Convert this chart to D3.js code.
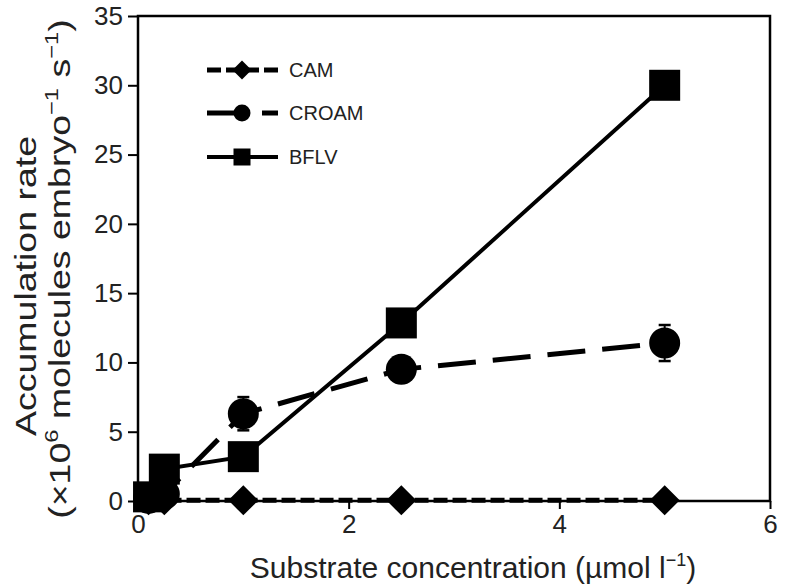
<!DOCTYPE html>
<html>
<head>
<meta charset="utf-8">
<script src="https://cdn.jsdelivr.net/npm/d3@7"></script>
<style>
  html, body { margin: 0; padding: 0; background: #fff; }
  svg { display: block; font-family: "Liberation Sans", Arial, Helvetica, sans-serif; }
</style>
</head>
<body>
<svg id="chart" width="791" height="588"></svg>
<script>
// ---- data ----
const concentrations = [0.1, 0.25, 1, 2.5, 5];
const camValues   = [0.05, 0.05, 0.05, 0.05, 0.05];
const croamValues = [0.2, 0.5, 6.3, 9.5, 11.4];
const croamErrors = [0, 0, 1.2, 0.4, 1.3];
const bflvValues  = [0.3, 2.3, 3.2, 12.85, 30.0];
const seriesNames = ["CAM", "CROAM", "BFLV"];
const xTickValues = [0, 2, 4, 6];
const yTickValues = [0, 5, 10, 15, 20, 25, 30, 35];

// ---- layout ----
const svg = d3.select("#chart");
const x = d3.scaleLinear().domain([0, 6]).range([138, 770]);
const y = d3.scaleLinear().domain([0, 35]).range([501, 16]);

const styles = {
  CAM:   { dash: "14,5",  width: 5, marker: "diamond" },
  CROAM: { dash: "38,17", width: 5, marker: "circle" },
  BFLV:  { dash: null,    width: 4, marker: "square" }
};

function pts(vals) { return concentrations.map((c, i) => ({ x: c, y: vals[i] })); }
const series = [
  { name: "CAM",   data: pts(camValues) },
  { name: "CROAM", data: pts(croamValues), err: croamErrors },
  { name: "BFLV",  data: pts(bflvValues) }
];

// frame
svg.append("rect")
  .attr("x", x(0)).attr("y", y(35))
  .attr("width", x(6) - x(0)).attr("height", y(0) - y(35))
  .attr("fill", "none").attr("stroke", "#000").attr("stroke-width", 2.5);

// axes
const xAxis = svg.append("g").attr("transform", `translate(0,${y(0)})`)
  .call(d3.axisBottom(x).tickValues(xTickValues).tickSize(8).tickPadding(6).tickFormat(d3.format("d")));
const yAxis = svg.append("g").attr("transform", `translate(${x(0)},0)`)
  .call(d3.axisLeft(y).tickValues(yTickValues).tickSize(10).tickPadding(5).tickFormat(d3.format("d")));
[xAxis, yAxis].forEach(g => {
  g.select(".domain").remove();
  g.selectAll(".tick line").attr("stroke", "#000").attr("stroke-width", 2);
  g.selectAll(".tick text").attr("fill", "#222").attr("font-size", 26)
    .attr("font-family", "'Liberation Sans', Arial, sans-serif");
});

// marker drawing
function drawMarker(g, type, cx, cy, s) {
  if (type === "square") {
    g.append("rect").attr("x", cx - s / 2).attr("y", cy - s / 2)
      .attr("width", s).attr("height", s).attr("fill", "#000");
  } else if (type === "circle") {
    g.append("circle").attr("cx", cx).attr("cy", cy).attr("r", s / 2).attr("fill", "#000");
  } else {
    const h = s / 2;
    g.append("path").attr("d", `M${cx},${cy - h}L${cx + h},${cy}L${cx},${cy + h}L${cx - h},${cy}Z`)
      .attr("fill", "#000");
  }
}

const line = d3.line().x(d => x(d.x)).y(d => y(d.y));
const plot = svg.append("g");
series.forEach(s => {
  const st = styles[s.name];
  const g = plot.append("g");
  g.append("path").datum(s.data).attr("d", line)
    .attr("fill", "none").attr("stroke", "#000").attr("stroke-width", st.width)
    .attr("stroke-dasharray", st.dash);
  if (s.err) {
    s.data.forEach((d, i) => {
      const e = s.err[i];
      if (!e) return;
      g.append("line").attr("x1", x(d.x)).attr("x2", x(d.x))
        .attr("y1", y(d.y - e)).attr("y2", y(d.y + e)).attr("stroke", "#000").attr("stroke-width", 2);
      [d.y - e, d.y + e].forEach(v => {
        g.append("line").attr("x1", x(d.x) - 6).attr("x2", x(d.x) + 6)
          .attr("y1", y(v)).attr("y2", y(v)).attr("stroke", "#000").attr("stroke-width", 2.5);
      });
    });
  }
  s.data.forEach(d => drawMarker(g, st.marker, x(d.x), y(d.y), s.name === "CAM" ? 30 : 31));
});

// legend
const legendY = [70, 113, 157];
seriesNames.forEach((name, i) => {
  const st = styles[name];
  const g = svg.append("g");
  g.append("line").attr("x1", 207).attr("x2", 278).attr("y1", legendY[i]).attr("y2", legendY[i])
    .attr("stroke", "#000").attr("stroke-width", st.width).attr("stroke-dasharray", st.dash);
  drawMarker(g, st.marker, 242, legendY[i], name === "CAM" ? 19 : 17);
  g.append("text").attr("x", 289).attr("y", legendY[i] + 7).attr("font-size", 20).attr("fill", "#222")
    .text(name);
});

// axis titles
const xt = svg.append("text").attr("x", 473).attr("y", 578).attr("text-anchor", "middle")
  .attr("font-size", 30).attr("fill", "#222");
xt.append("tspan").text("Substrate concentration (µmol l");
xt.append("tspan").attr("dy", -12).attr("font-size", 18).text("−1");
xt.append("tspan").attr("dy", 12).text(")");

const yt1 = svg.append("text").attr("transform", "translate(36,286) rotate(-90) scale(1.25,1)")
  .attr("text-anchor", "middle").attr("font-size", 30).attr("fill", "#222")
  .text("Accumulation rate");
const yt2 = svg.append("text").attr("transform", "translate(70,269) rotate(-90) scale(1.25,1)")
  .attr("text-anchor", "middle").attr("font-size", 30).attr("fill", "#222");
yt2.append("tspan").text("(×10");
yt2.append("tspan").attr("dy", -12).attr("font-size", 19).text("6");
yt2.append("tspan").attr("dy", 12).text(" molecules embryo");
yt2.append("tspan").attr("dy", -12).attr("font-size", 19).text("−1");
yt2.append("tspan").attr("dy", 12).text(" s");
yt2.append("tspan").attr("dy", -12).attr("font-size", 19).text("−1");
yt2.append("tspan").attr("dy", 12).text(")");
</script>
</body>
</html>
